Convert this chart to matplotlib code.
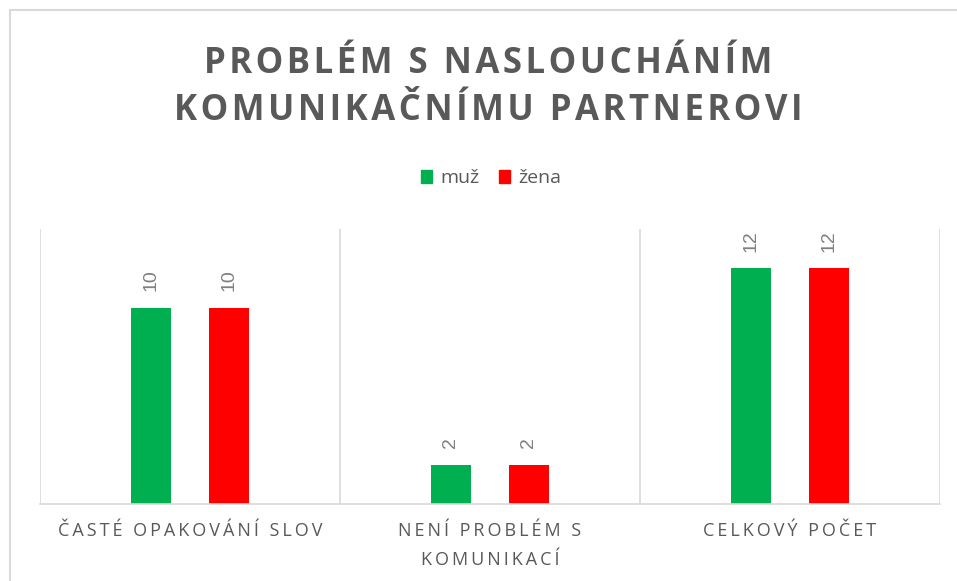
import matplotlib.pyplot as plt
from matplotlib.patches import Patch
from matplotlib.lines import Line2D
import numpy as np

categories = ['ČASTÉ OPAKOVÁNÍ SLOV', 'NENÍ PROBLÉM S\nKOMUNIKACÍ', 'CELKOVÝ POČET']
series_names = ['muž', 'žena']
muz = [10, 2, 12]
zena = [10, 2, 12]
colors = ['#00B050', '#FF0000']
title = 'PROBLÉM S NASLOUCHÁNÍM\nKOMUNIKAČNÍMU PARTNEROVI'

GRAY = '#595959'
GRID = '#D9D9D9'


def spaced(s, sep='\u200a'):
    # fake letter spacing
    return '\n'.join(sep.join(line) for line in s.split('\n'))


plt.rcParams['font.family'] = ['Open Sans', 'DejaVu Sans']

fig = plt.figure(figsize=(9.57, 5.81), dpi=100)
# chart frame, only top and left edges are visible in the crop
fig.add_artist(Line2D([10 / 957, 1], [571 / 581, 571 / 581], color=GRID, lw=1.5))
fig.add_artist(Line2D([10 / 957, 10 / 957], [0, 571 / 581], color=GRID, lw=1.5))

ax = fig.add_axes([40 / 957, 77 / 581, 900 / 957, 275 / 581])

x = np.arange(len(categories))
w = 0.133
off = 0.13
b1 = ax.bar(x - off, muz, w, color=colors[0], label=series_names[0])
b2 = ax.bar(x + off, zena, w, color=colors[1], label=series_names[1])

for bars in (b1, b2):
    for rect in bars:
        ax.annotate(str(int(rect.get_height())),
                    (rect.get_x() + rect.get_width() / 2, rect.get_height()),
                    xytext=(0, 12), textcoords='offset points',
                    rotation=90, ha='center', va='bottom',
                    fontsize=14, color='#7F7F7F', family=['Liberation Sans', 'DejaVu Sans'])

ax.set_xlim(-0.5, 2.5)
ax.set_ylim(0, 14)
ax.set_yticks([])
ax.set_xticks(x)
ax.set_xticklabels([spaced(c, '\u2009') for c in categories], fontsize=13, color=GRAY,
                   linespacing=1.75)
ax.tick_params(axis='x', length=0, pad=13)
ax.set_xticks([-0.5, 0.5, 1.5, 2.5], minor=True)
ax.tick_params(axis='x', which='minor', length=0)
ax.grid(True, which='minor', axis='x', color=GRID, linewidth=1.2)
for s in ['top', 'right', 'left']:
    ax.spines[s].set_visible(False)
ax.spines['bottom'].set_color(GRID)
ax.spines['bottom'].set_linewidth(1.2)

fig.text(0.51, 0.849, spaced(title), ha='center', va='center', fontsize=25,
         fontweight='bold', color=GRAY, linespacing=1.4)

handles = [Patch(color=c, label=n) for c, n in zip(colors, series_names)]
fig.legend(handles=handles, loc='center', bbox_to_anchor=(0.513, 0.693), ncol=2,
           frameon=False, fontsize=14, labelcolor=GRAY, handlelength=0.6,
           handleheight=0.6, handletextpad=0.4, columnspacing=1.0)

plt.savefig('out.png', dpi=100)
plt.close()
